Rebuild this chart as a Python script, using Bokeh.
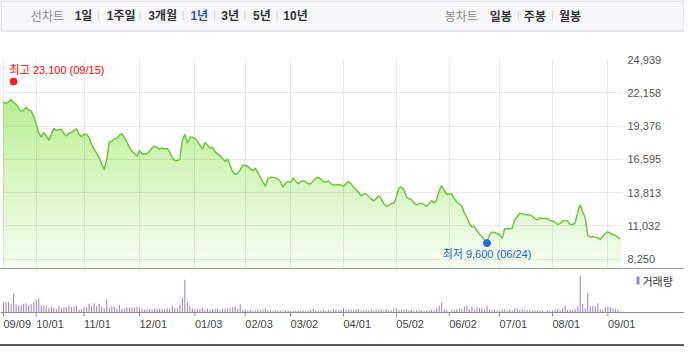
import numpy as np
import pandas as pd
from bokeh.plotting import figure
from bokeh.layouts import column
from bokeh.models import (Range1d, FixedTicker, NumeralTickFormatter, Grid, Span, Spacer)
from bokeh.core.properties import value
from bokeh.embed import file_html
from bokeh.resources import INLINE

# ---------------- data ----------------
first_day = "2021-09-09"
last_day = "2022-09-08"
market_holidays = ["2021-09-20", "2021-09-21", "2021-09-22", "2021-10-04", "2021-10-11",
                   "2021-12-31", "2022-01-31", "2022-02-01", "2022-02-02", "2022-03-01",
                   "2022-03-09", "2022-05-05", "2022-06-01", "2022-06-06", "2022-08-15"]

close = [
    21400, 21250, 21400, 21600, 21350, 21200, 20900, 20600, 20700, 20950,
    20700, 20650, 20200, 19550, 18800, 18450, 18850, 18550, 18200, 18700,
    19200, 19000, 19100, 19100, 18750, 18550, 18800, 18850, 19000, 19150,
    18700, 18500, 18700, 18700, 18400, 17850, 17450, 17100, 16750, 16200,
    15750, 16600, 18050, 18100, 18350, 18350, 18600, 18750, 18400, 18050,
    17600, 17300, 17100, 16850, 17350, 17050, 17050, 17050, 17300, 17550,
    17700, 17600, 17450, 17550, 17450, 17500, 17200, 16750, 16500, 16500,
    16600, 18200, 18700, 17950, 18450, 18450, 18350, 18100, 17800, 17450,
    18000, 17800, 17550, 17600, 17250, 17050, 16900, 16650, 16450, 16600,
    16100, 15550, 15350, 15450, 15700, 16100, 16100, 16000, 15800, 15650,
    15850, 15500, 15100, 14700, 14350, 15000, 15100, 15100, 15050, 14950,
    14750, 14300, 14600, 14750, 14650, 15050, 14800, 14550, 14750, 14800,
    14750, 14550, 14550, 14800, 15000, 15100, 14950, 14750, 14700, 14800,
    14550, 14450, 14450, 14500, 14450, 14350, 14550, 14750, 14550, 14300,
    14050, 13850, 13550, 13700, 13700, 13500, 13300, 13150, 13300, 13550,
    13300, 12900, 12700, 12750, 12900, 12950, 13450, 14200, 14300, 14050,
    13450, 13300, 13250, 12950, 12800, 12900, 12900, 12850, 12650, 12900,
    13150, 12950, 13200, 14000, 14400, 14000, 13700, 13700, 13700, 13300,
    13050, 12850, 12700, 12100, 11750, 11250, 10950, 11000, 10650, 10350,
    10150, 9850, 9750, 10300, 10500, 10500, 10400, 10300, 10000, 10800,
    10800, 10800, 10850, 11550, 11800, 12100, 12050, 12000, 11950, 11950,
    11850, 11650, 11550, 11700, 11650, 11650, 11650, 11500, 11450, 11350,
    11150, 11250, 11450, 11500, 11450, 11150, 11150, 11300, 12150, 12800,
    12200, 11700, 10250, 10100, 10150, 10100, 10050, 9900, 10200, 10400,
    10550, 10400, 10300, 10250, 10050, 9950,
]

volume_k = [
    103, 103, 103, 83, 193, 83, 70, 77, 87, 93,
    70, 83, 103, 127, 137, 67, 67, 67, 43, 60,
    50, 33, 67, 43, 53, 53, 67, 53, 60, 67,
    27, 33, 53, 53, 87, 67, 93, 60, 87, 60,
    43, 133, 50, 60, 60, 37, 77, 37, 37, 50,
    50, 50, 50, 60, 50, 33, 27, 27, 33, 33,
    43, 37, 37, 37, 37, 43, 37, 67, 43, 43,
    77, 150, 327, 103, 67, 43, 37, 33, 37, 43,
    27, 37, 27, 37, 37, 43, 27, 37, 37, 43,
    43, 53, 60, 37, 83, 27, 33, 20, 27, 17,
    20, 27, 20, 27, 43, 27, 27, 17, 20, 17,
    17, 17, 20, 17, 17, 20, 17, 20, 17, 20,
    17, 20, 27, 43, 17, 20, 17, 27, 17, 27,
    20, 37, 27, 20, 27,
    43, 27, 27, 27, 20, 33, 33, 20, 20, 27,
    20, 27, 20, 27, 27, 33, 20, 33, 20, 20,
    43, 43, 27, 27, 33, 33, 20, 27, 20, 20,
    20, 20, 20, 20, 27, 27, 20, 43, 67, 103,
    33, 27, 10, 27, 27, 33, 43, 33, 60, 67,
    33, 60, 27, 50, 43, 50, 33, 67, 27, 27,
    27, 20, 20, 33, 33, 20, 27, 20, 43, 43,
    27, 33, 27, 20, 27, 20, 20, 20, 20, 20,
    10, 20, 20, 20, 27, 33, 27, 43, 67, 27,
    27, 27, 33, 60, 367, 87, 43, 193, 60, 67,
    60, 93, 33, 33, 50, 60, 53, 43, 33, 33, 10,
]

price_ticks = [8250, 11032, 13813, 16595, 19376, 22158, 24939]
date_ticks = ["09/09", "10/01", "11/01", "12/01", "01/03", "02/03", "03/02",
              "04/01", "05/02", "06/02", "07/01", "08/01", "09/01"]
high_price, high_date = 23100, "09/15"
low_price, low_date = 9600, "06/24"

line_title = "선차트"
period_labels = ["1일", "1주일", "3개월", "1년", "3년", "5년", "10년"]
active_period = "1년"
candle_title = "봉차트"
candle_labels = ["일봉", "주봉", "월봉"]
volume_label = "거래량"

# ---------------- derived ----------------
days = pd.bdate_range(first_day, last_day)
days = days[~days.isin(pd.to_datetime(market_holidays))]
day_labels = list(days.strftime("%m/%d"))
n = len(close)
idx = np.arange(n)
close_arr = np.array(close, dtype=float)
vol_arr = np.array(volume_k, dtype=float)
tick_idx = [day_labels.index(d) for d in date_ticks]
hi_i = day_labels.index(high_date)
lo_i = day_labels.index(low_date)

FONT_KR = "Noto Sans CJK KR"
FONT_MIX = "Liberation Sans, Noto Sans CJK KR"
W = 684

# ---------------- header bar ----------------
head = figure(width=W, height=51, x_range=Range1d(0, W), y_range=Range1d(51, 0),
              x_axis_location=None, y_axis_location=None, min_border=0,
              outline_line_color=None, toolbar_location=None, output_backend="svg",
              frame_align=False)
head.grid.visible = False
head.quad(left=0.5, right=W - 0.5, top=0.5, bottom=30.5,
          fill_color="#f7f7f9", line_color="#d2d2d6")
left_centers = [83, 120.7, 162.2, 198.8, 229.6, 261.4, 295]
left_seps = [97.7, 139.7, 182.7, 214, 244.3, 276.5]
right_centers = [500.2, 534.4, 569.6]
right_seps = [517.8, 552]
head.text(x=[46.9, 460.7], y=[15, 15], text=[line_title, candle_title],
          text_align="center", text_baseline="middle", text_font=value(FONT_KR),
          text_font_size="12px", text_color="#8a8a8a")
head.text(x=left_centers, y=[15] * len(left_centers), text=period_labels,
          text_align="center", text_baseline="middle", text_font=value(FONT_MIX),
          text_font_size="12px", text_font_style="bold",
          text_color=["#3352b8" if t == active_period else "#333333" for t in period_labels])
head.text(x=right_centers, y=[15] * len(right_centers), text=candle_labels,
          text_align="center", text_baseline="middle", text_font=value(FONT_KR),
          text_font_size="12px", text_font_style="bold", text_color="#333333")
seps = left_seps + right_seps
head.segment(x0=seps, y0=[10] * len(seps), x1=seps, y1=[20] * len(seps),
             line_color="#d6d6d6", line_width=1)

# ---------------- price chart ----------------
FRAME_W = 620
x0, x1 = -0.4, n - 1 + 0.8
ylo, yhi = 7480, 24939
p = figure(width=W, height=217, x_range=Range1d(x0, x1), y_range=Range1d(ylo, yhi),
           x_axis_location=None, y_axis_location="right", toolbar_location=None,
           output_backend="svg", min_border_left=2, min_border_right=W - 2 - FRAME_W,
           min_border_top=8, min_border_bottom=0, outline_line_color=None,
           frame_align=False)
p.xgrid.visible = False
p.yaxis.ticker = FixedTicker(ticks=price_ticks)
p.yaxis.formatter = NumeralTickFormatter(format="0,0")
p.yaxis.axis_line_color = None
p.yaxis.major_tick_line_color = None
p.yaxis.minor_tick_line_color = None
p.yaxis.major_tick_out = 0
p.yaxis.major_label_standoff = 5
p.yaxis.major_label_text_font = "Liberation Sans"
p.yaxis.major_label_text_font_size = "11px"
p.yaxis.major_label_text_color = "#555555"
p.ygrid.grid_line_color = "#000000"
p.ygrid.grid_line_alpha = 0.08
p.add_layout(Grid(dimension=0, ticker=FixedTicker(ticks=tick_idx),
                  grid_line_color="#000000", grid_line_alpha=0.08))

# gradient area under the line (stacked bands, drawn top band first)
nb = 44
edges = np.linspace(ylo, yhi, nb + 1)
c_bot = np.array([247, 253, 241])
c_top = np.array([172, 236, 128])
for k in reversed(range(nb)):
    t = ((edges[k] + edges[k + 1]) / 2 - ylo) / (yhi - ylo)
    c = np.round(c_bot + (c_top - c_bot) * t).astype(int)
    col = "#%02x%02x%02x" % tuple(c)
    p.varea(x=idx, y1=ylo, y2=np.minimum(close_arr, edges[k + 1]),
            fill_color=col, level="image")

p.line(idx, close_arr, line_color="#6cc63e", line_width=1.5)

p.scatter([hi_i], [high_price], size=7, color="#ff1a1a", level="overlay")
p.text(x=[hi_i], y=[high_price], text=[f"최고 {high_price:,} ({high_date})"],
       x_offset=-4, y_offset=-6, text_align="left", text_baseline="bottom",
       text_font=value(FONT_MIX), text_font_size="11px", text_color="#ff0000",
       level="overlay")
p.scatter([lo_i], [low_price], size=7, color="#1f6ddf", level="overlay")
p.text(x=[lo_i], y=[low_price], text=[f"최저 {low_price:,} ({low_date})"],
       y_offset=5, text_align="center", text_baseline="top",
       text_font=value(FONT_MIX), text_font_size="11px", text_color="#1a5fcf",
       level="overlay")

# ---------------- volume chart ----------------
k_px = FRAME_W / (x1 - x0)
vx0 = x0 - 2 / k_px
vx1 = vx0 + W / k_px
VH = 75
base_px = 43
vtop = vol_arr.max() * base_px / 36.7
upp = vtop / base_px
vbot = -upp * (VH - base_px)
v = figure(width=W, height=VH, x_range=Range1d(vx0, vx1), y_range=Range1d(vbot, vtop),
           x_axis_location=None, y_axis_location=None, min_border=0,
           outline_line_color=None, toolbar_location=None, output_backend="svg",
           frame_align=False)
v.grid.visible = False
v.vbar(x=idx, top=vol_arr, bottom=0, width=0.42, fill_color="#9a85c9", line_color=None)
v.add_layout(Span(location=0, dimension="width", line_color="#8c8c8c", line_width=1))
v.segment(x0=tick_idx, y0=[0] * len(tick_idx), x1=tick_idx,
          y1=[-4 * upp] * len(tick_idx), line_color="#8c8c8c", line_width=1)
v.text(x=tick_idx, y=[-11.7 * upp] * len(tick_idx), text=date_ticks,
       text_align="left", text_baseline="middle", text_font=value("Liberation Sans"),
       text_font_size="11px", text_color="#444444")

# legend key (small bar + label) near the top right of the volume panel
def px_to_x(px):
    return vx0 + px / k_px

def py_to_y(py):
    return vtop - py * upp

v.quad(left=[px_to_x(636)], right=[px_to_x(639)], top=[py_to_y(7)], bottom=[py_to_y(15)],
       fill_color="#9a85c9", line_color=None)
v.text(x=[px_to_x(642)], y=[py_to_y(11.5)], text=[volume_label], text_align="left",
       text_baseline="middle", text_font=value(FONT_KR), text_font_size="11px",
       text_color="#333333")

sep_line = Spacer(width=W, height=1, styles={"background-color": "#9a9a9a"})
bottom_line = Spacer(width=W, height=2, styles={"background-color": "#5a5a5a"})

layout = column(head, p, sep_line, v, bottom_line, spacing=0)
open("out.html", "w").write(file_html(layout, INLINE))
